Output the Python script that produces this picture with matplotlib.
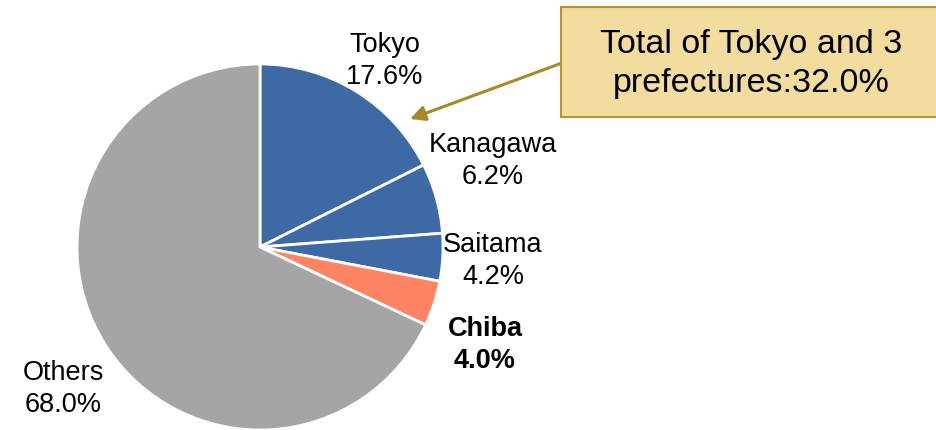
import matplotlib
matplotlib.use("Agg")
import matplotlib.pyplot as plt
from matplotlib.patches import Rectangle

labels = ["Tokyo", "Kanagawa", "Saitama", "Chiba", "Others"]
values = [17.6, 6.2, 4.2, 4.0, 68.0]
colors = ["#3D69A5", "#3D69A5", "#3D69A5", "#FF8463", "#A5A5A5"]
box_text = "Total of Tokyo and 3\nprefectures:32.0%"

W, H = 937, 431
fig = plt.figure(figsize=(W / 100, H / 100), dpi=100)
ax = fig.add_axes([0, 0, 1, 1])

cx, cy, r = 260, H - 248, 183
ax.pie(values, colors=colors, startangle=90, counterclock=False,
       center=(cx, cy), radius=r,
       wedgeprops=dict(edgecolor="white", linewidth=2), frame=True)
ax.set_xlim(0, W)
ax.set_ylim(0, H)
ax.set_aspect("equal")
ax.axis("off")

font = "Liberation Sans"
fs = 19.5
label_pos = [(385, 61), (493, 161), (493, 261), (485, 345), (63, 389)]
for lab, v, (x, y), in zip(labels, values, label_pos):
    bold = lab == "Chiba"
    ax.text(x, H - y, f"{lab}\n{v:.1f}%", ha="center", va="center",
            fontsize=fs, family=font, fontweight="bold" if bold else "normal",
            linespacing=1.3, color="black")

# callout box
ax.add_patch(Rectangle((561, H - 118), 385, 110, facecolor="#F2DC9E",
                       edgecolor="#B8962E", linewidth=1.5, zorder=3))
ax.text(751, H - 64, box_text, ha="center", va="center", fontsize=24.5,
        family=font, linespacing=1.35, zorder=4)

ax.annotate("", xy=(410, H - 120), xytext=(562, H - 64),
            arrowprops=dict(arrowstyle="-|>,head_length=0.9,head_width=0.45",
                            color="#A8892A", linewidth=2.2, shrinkA=0, shrinkB=0),
            zorder=2)

fig.savefig("out.png", dpi=100)
